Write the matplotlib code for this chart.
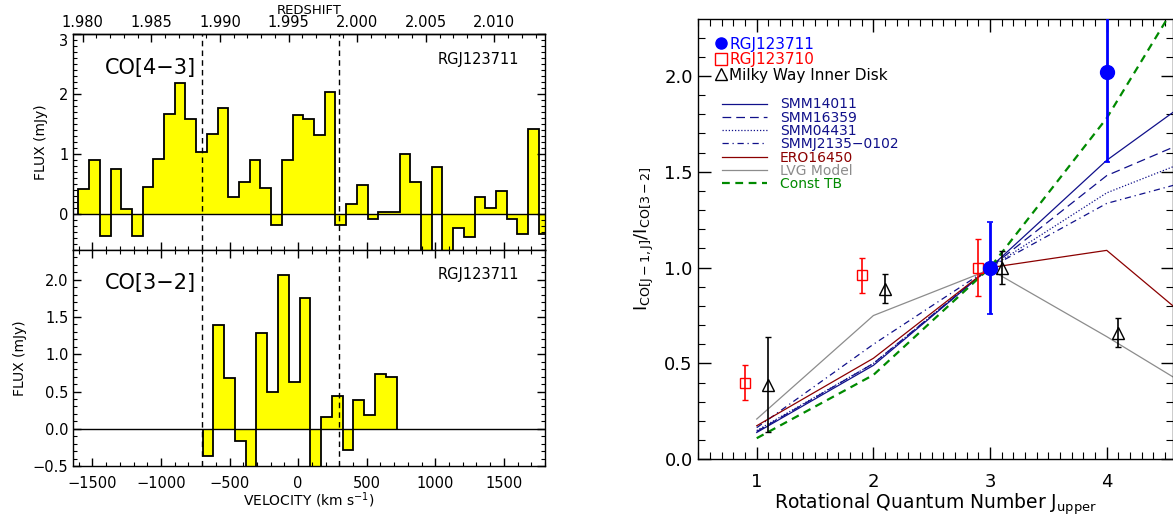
import numpy as np
import matplotlib
matplotlib.use('Agg')
import matplotlib.pyplot as plt
import matplotlib.transforms as mtransforms
from matplotlib.ticker import MultipleLocator, FormatStrFormatter, FixedLocator
from matplotlib.lines import Line2D

plt.rcParams['font.family'] = ['DejaVu Sans']
plt.rcParams['mathtext.fontset'] = 'dejavusans'
plt.rcParams['axes.linewidth'] = 1.0

# ---------------- data: spectra ----------------
z_sys = 1.9957
c_kms = 299792.458
line_velocities = [-700, 300]

co43_v_start = -1603.0
co43_dv = 78.1
co43_flux = [0.42, 0.91, -0.37, 0.76, 0.09, -0.36, 0.45, 0.92, 1.67, 2.19,
             1.58, 1.03, 1.33, 1.77, 0.29, 0.54, 0.91, 0.44, -0.18, 0.91,
             1.65, 1.58, 1.32, 2.04, -0.18, 0.16, 0.49, -0.08, 0.03, 0.03,
             1.00, 0.54, -0.90, 0.79, -0.90, -0.23, -0.39, 0.29, 0.10, 0.39,
             -0.08, -0.33, 1.42, -0.34]

co32_v_start = -697.0
co32_dv = 78.6
co32_flux = [-0.36, 1.39, 0.68, -0.16, -0.75, 1.28, 0.50, 2.07, 0.63, 1.76,
             -0.75, 0.16, 0.44, -0.28, 0.39, 0.18, 0.74, 0.70]

# ---------------- data: line ratios ----------------
J_model = [1, 2, 3, 4, 5]
smm14011 = [0.14, 0.49, 1.0, 1.56, 2.00]
smm16359 = [0.145, 0.50, 1.0, 1.48, 1.74]
smm04431 = [0.15, 0.50, 1.0, 1.39, 1.63]
smmj2135 = [0.165, 0.60, 1.0, 1.335, 1.50]
ero16450 = [0.175, 0.527, 1.0, 1.09, 0.58]
lvg_model = [0.21, 0.75, 0.99, 0.64, 0.27]
const_tb = [0.11, 0.44, 1.0, 1.78, 2.78]

rgj123711_J = [3, 4]
rgj123711_r = [1.0, 2.02]
rgj123711_e = [0.24, 0.47]

rgj123710_J = [1, 2, 3]
rgj123710_r = [0.40, 0.96, 1.0]
rgj123710_e = [0.09, 0.09, 0.15]

mw_J = [1, 2, 3, 4]
mw_r = [0.39, 0.89, 1.0, 0.66]
mw_e = [0.25, 0.075, 0.085, 0.075]

# ---------------- figure ----------------
W, H = 1173, 521
fig = plt.figure(figsize=(W / 100, H / 100), dpi=100)

def fr(x0, y0, x1, y1):
    return [x0 / W, 1 - y1 / H, (x1 - x0) / W, (y1 - y0) / H]

ax_top = fig.add_axes(fr(73.3, 34.3, 545, 250))
ax_bot = fig.add_axes(fr(73.3, 250, 545, 466))

tick_fs = 10.5

def spectrum(ax, v0, dv, flux):
    flux = np.asarray(flux)
    edges = v0 + dv * np.arange(len(flux) + 1)
    ax.stairs(flux, edges, baseline=0, fill=True, color='#ffff00', lw=0, zorder=1)
    ax.stairs(flux, edges, baseline=0, fill=False, color='black', lw=1.3, zorder=3)
    ax.axhline(0, color='black', lw=1.0, zorder=2)
    for v in line_velocities:
        ax.axvline(v, color='black', lw=1.0, ls=(0, (4, 3)), zorder=4)
    ax.set_xlim(-1640, 1800)
    ax.xaxis.set_major_locator(MultipleLocator(500))
    ax.xaxis.set_minor_locator(MultipleLocator(100))
    ax.yaxis.set_minor_locator(MultipleLocator(0.1))
    ax.tick_params(which='both', direction='in', right=True, labelsize=tick_fs)
    ax.tick_params(which='major', length=6, width=1.0)
    ax.tick_params(which='minor', length=3, width=0.8)

spectrum(ax_top, co43_v_start, co43_dv, co43_flux)
spectrum(ax_bot, co32_v_start, co32_dv, co32_flux)

ax_top.set_ylim(-0.6, 3)
ax_top.set_yticks([0, 1, 2, 3])
ax_top.set_yticklabels(['0', '1', '2', '3'])
ax_top.tick_params(which='both', top=False, labelbottom=False)
# nudge the top-most label down a little, as in the original
top_lab = ax_top.get_yticklabels()[-1]
top_lab.set_transform(top_lab.get_transform() +
                      mtransforms.ScaledTranslation(0, -4 / 72, fig.dpi_scale_trans))

ax_bot.set_ylim(-0.5, 2.4)
ax_bot.tick_params(which='both', top=True)
ax_bot.tick_params(axis='x', pad=7)
ax_bot.set_xticks([-1500, -1000, -500, 0, 500, 1000, 1500])
ax_bot.set_xticklabels(['\u22121500', '\u22121000', '\u2212500', '0', '500', '1000', '1500'])
ax_bot.set_yticks([-0.5, 0.0, 0.5, 1.0, 1.5, 2.0])
ax_bot.set_yticklabels(['\u22120.5', '0.0', '0.5', '1.0', '1.5', '2.0'])

def v2z(v):
    return z_sys + np.asarray(v) * (1 + z_sys) / c_kms

def z2v(z):
    return (np.asarray(z) - z_sys) * c_kms / (1 + z_sys)

sec = ax_top.secondary_xaxis('top', functions=(v2z, z2v))
sec.xaxis.set_major_locator(FixedLocator([1.980, 1.985, 1.990, 1.995, 2.000, 2.005, 2.010]))
sec.xaxis.set_minor_locator(MultipleLocator(0.001))
sec.xaxis.set_major_formatter(FormatStrFormatter('%.3f'))
sec.tick_params(which='both', direction='in', labelsize=tick_fs, pad=3)
sec.tick_params(which='major', length=6, width=1.0)
sec.tick_params(which='minor', length=3, width=0.8)
sec.set_xlabel('REDSHIFT', fontsize=9.5, labelpad=1)

ax_top.set_ylabel('FLUX (mJy)', fontsize=10, labelpad=8)
ax_bot.set_ylabel('FLUX (mJy)', fontsize=10, labelpad=4)
ax_bot.set_xlabel('VELOCITY (km s$^{-1}$)', fontsize=10, labelpad=0)

ax_top.text(0.067, 0.845, 'CO[4\u22123]', transform=ax_top.transAxes, fontsize=15, va='center', ha='left')
ax_bot.text(0.067, 0.846, 'CO[3\u22122]', transform=ax_bot.transAxes, fontsize=15, va='center', ha='left')
ax_top.text(0.9455, 0.884, 'RGJ123711', transform=ax_top.transAxes, fontsize=10.5, va='center', ha='right')
ax_bot.text(0.9455, 0.8875, 'RGJ123711', transform=ax_bot.transAxes, fontsize=10.5, va='center', ha='right')

# ---------------- right panel ----------------
ax = fig.add_axes(fr(697.7, 19, 1173, 459.3))
navy = '#10108a'
dred = '#8b0000'
gray = '#8c8c8c'
green = '#008a00'

l1, = ax.plot(J_model, smm14011, color=navy, lw=0.9, label='SMM14011')
l2, = ax.plot(J_model, smm16359, color=navy, lw=0.9, ls=(0, (7, 4)), label='SMM16359')
l3, = ax.plot(J_model, smm04431, color=navy, lw=0.9, ls=(0, (1, 1.5)), label='SMM04431')
l4, = ax.plot(J_model, smmj2135, color=navy, lw=0.9, ls=(0, (5, 3, 1, 3)), label='SMMJ2135\u22120102')
l5, = ax.plot(J_model, ero16450, color=dred, lw=0.9, label='ERO16450')
l6, = ax.plot(J_model, lvg_model, color=gray, lw=0.9, label='LVG Model')
l7, = ax.plot(J_model, const_tb, color=green, lw=1.6, ls=(0, (3.5, 2.5)), label='Const TB')

ax.errorbar(np.asarray(mw_J) + 0.1, mw_r, yerr=mw_e, fmt='^', ms=8, mfc='none', mec='black',
            mew=1.0, ecolor='black', elinewidth=1.2, capsize=2.5, capthick=1.0, zorder=5)
ax.errorbar(np.asarray(rgj123710_J) - 0.1, rgj123710_r, yerr=rgj123710_e, fmt='s', ms=7, mfc='none',
            mec='red', mew=1.0, ecolor='red', elinewidth=1.2, capsize=2.5, capthick=1.0, zorder=5)
ax.errorbar(rgj123711_J, rgj123711_r, yerr=rgj123711_e, fmt='o', ms=10, mfc='blue', mec='blue',
            ecolor='blue', elinewidth=2.0, capsize=2.5, capthick=1.2, zorder=6)

ax.set_xlim(0.494, 4.568)
ax.set_ylim(0.0, 2.297)
ax.xaxis.set_major_locator(MultipleLocator(1))
ax.xaxis.set_minor_locator(MultipleLocator(0.1))
ax.yaxis.set_major_locator(MultipleLocator(0.5))
ax.yaxis.set_minor_locator(MultipleLocator(0.1))
ax.yaxis.set_major_formatter(FormatStrFormatter('%.1f'))
ax.tick_params(which='both', direction='in', top=True, right=True, labelsize=13)
ax.tick_params(which='major', length=9, width=1.0)
ax.tick_params(which='minor', length=5, width=0.8)
ax.tick_params(axis='x', pad=10)

ax.set_xlabel('Rotational Quantum Number J$_{\\mathrm{upper}}$', fontsize=13.5, labelpad=0)
ax.set_ylabel(r'I$_{\mathrm{CO[J-1,J]}}$/I$_{\mathrm{CO[3-2]}}$', fontsize=13, labelpad=6)

h1 = Line2D([], [], marker='o', ls='none', color='blue', ms=8)
h2 = Line2D([], [], marker='s', ls='none', mfc='none', mec='red', ms=8, mew=1.0)
h3 = Line2D([], [], marker='^', ls='none', mfc='none', mec='black', ms=8, mew=1.0)
leg1 = ax.legend([h1, h2, h3], ['RGJ123711', 'RGJ123710', 'Milky Way Inner Disk'],
                 loc='upper left', bbox_to_anchor=(0.036, 0.960), frameon=False, fontsize=11,
                 handlelength=0.75, handletextpad=0.2, labelspacing=0.03, borderpad=0, borderaxespad=0)
for t, col in zip(leg1.get_texts(), ['blue', 'red', 'black']):
    t.set_color(col)
ax.add_artist(leg1)

leg2 = ax.legend([l1, l2, l3, l4, l5, l6, l7],
                 ['SMM14011', 'SMM16359', 'SMM04431', 'SMMJ2135\u22120102', 'ERO16450', 'LVG Model', 'Const TB'],
                 loc='upper left', bbox_to_anchor=(0.0505, 0.822), frameon=False, fontsize=10,
                 handlelength=3.24, handletextpad=0.96, labelspacing=-0.05, borderpad=0, borderaxespad=0)
for t, col in zip(leg2.get_texts(), [navy, navy, navy, navy, dred, gray, green]):
    t.set_color(col)

fig.savefig('out.png', dpi=100)
